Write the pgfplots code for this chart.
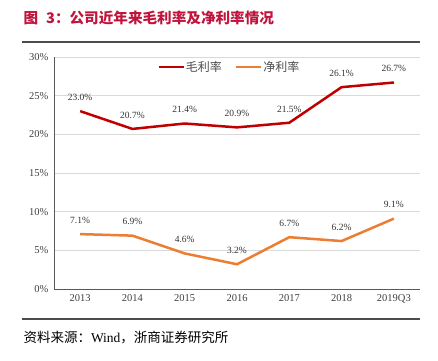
\documentclass[border=0pt]{standalone}
\usepackage{pgfplots}
\pgfplotsset{compat=1.18}
\usepackage{fontspec}
\setmainfont{Liberation Serif}
\newfontfamily\cjk{Noto Sans CJK SC}
\definecolor{gross}{HTML}{C00000}
\definecolor{net}{HTML}{ED7D31}
\definecolor{titlered}{HTML}{C0143C}
\begin{document}
\begin{tikzpicture}[x=1pt,y=1pt]
\path[use as bounding box] (0,0) rectangle (438,360);
\draw[color=black!70, line width=1.2pt] (22,318) -- (420,318);
\node[anchor=west, text=titlered, font=\cjk\bfseries\fontsize{14.6}{16}\selectfont] at (20,342) {图\hspace{8pt}3：公司近年来毛利率及净利率情况};
\node[anchor=west, font=\fontsize{13.5}{15}\selectfont] at (20,23) {\cjk 资料来源：{\rmfamily Wind}\cjk，浙商证券研究所};
\draw[color=black!70, line width=1.2pt] (22,41) -- (420,41);
\begin{axis}[
  at={(54pt,71pt)}, anchor=south west,
  scale only axis, width=366pt, height=232pt,
  xmin=-0.5, xmax=6.5, ymin=0, ymax=30,
  xtick={0,1,2,3,4,5,6},
  xticklabels={2013,2014,2015,2016,2017,2018,2019Q3},
  ytick={0,5,10,15,20,25,30},
  yticklabel={\pgfmathprintnumber{\tick}\%},
  /pgf/number format/assume math mode=true,
  tick style={draw=none},
  ymajorgrids, grid style={color=black!15, line width=0.8pt},
  axis x line*=bottom, axis y line*=left,
  axis line style={color=black!65, line width=1pt, -},
  tick label style={font=\fontsize{10.5}{12}\selectfont, text=black!75},
  xticklabel style={yshift=-2pt},
  yticklabel style={xshift=-2pt},
  point meta=y,
  nodes near coords={\pgfmathprintnumber[fixed,fixed zerofill,precision=1]{\pgfplotspointmeta}\%},
  every node near coord/.append style={font=\fontsize{9.5}{11}\selectfont, text=black!80, yshift=6pt},
  legend style={at={(0.478,0.957)}, anchor=center, draw=none, fill=none,
    legend columns=2, font=\cjk\fontsize{12}{14}\selectfont, text=black!70,
    /tikz/every odd column/.append style={column sep=0pt},
    /tikz/every even column/.append style={column sep=12pt},
    nodes={inner sep=1pt}},
  legend image code/.code={\draw[#1, line width=2.5pt] (0pt,0pt) -- (25pt,0pt);},
  clip=false,
]
\addplot[color=gross, line width=2.5pt, mark=none] coordinates {(0,23.0) (1,20.7) (2,21.4) (3,20.9) (4,21.5) (5,26.1) (6,26.7)};
\addlegendentry{毛利率}
\addplot[color=net, line width=2.5pt, mark=none] coordinates {(0,7.1) (1,6.9) (2,4.6) (3,3.2) (4,6.7) (5,6.2) (6,9.1)};
\addlegendentry{净利率}
\end{axis}
\end{tikzpicture}
\end{document}
